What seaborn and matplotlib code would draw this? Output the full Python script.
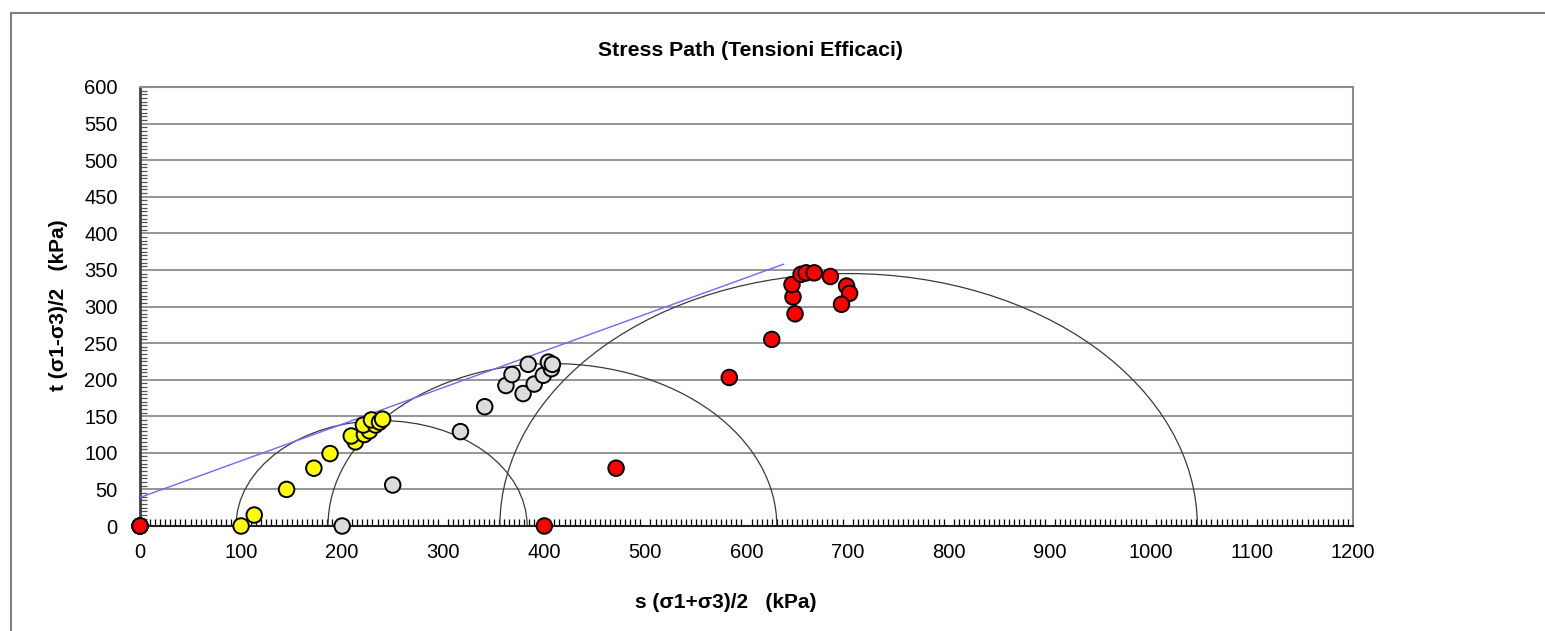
import matplotlib
matplotlib.use("Agg")
import matplotlib.pyplot as plt
import seaborn as sns
import pandas as pd
from matplotlib.patches import Arc
from matplotlib.lines import Line2D
from matplotlib.ticker import MultipleLocator

# ---- data ----
yellow_s = [0, 100, 113, 145, 172, 188, 213, 209, 222, 227, 221, 233, 229, 237, 240]
yellow_t = [0, 0, 15, 50, 79, 99, 115, 123, 125, 130, 138, 138, 145, 142, 146]

grey_s = [0, 200, 250, 317, 341, 362, 368, 379, 384, 390, 399, 407, 404, 408]
grey_t = [0, 0, 56, 129, 163, 192, 207, 181, 221, 194, 206, 215, 224, 221]

red_s = [0, 400, 471, 583, 625, 648, 646, 645, 654, 659, 667, 683, 699, 702, 694]
red_t = [0, 0, 79, 203, 255, 290, 313, 330, 344, 346, 346, 341, 328, 318, 303]

circle_center = [239, 408, 701]
circle_radius = [144, 222, 345]

envelope_s = [0, 637]
envelope_t = [39, 358]

x_ticks = list(range(0, 1201, 100))
y_ticks = list(range(0, 601, 50))

title = "Stress Path (Tensioni Efficaci)"
xlabel = "s (\u03c31+\u03c33)/2   (kPa)"
ylabel = "t (\u03c31-\u03c33)/2   (kPa)"

# ---- figure ----
sns.set_style("white")
plt.rcParams["font.family"] = ["Liberation Sans", "DejaVu Sans"]
plt.rcParams["text.color"] = "black"

W, H = 1545, 631
fig = plt.figure(figsize=(W / 100, H / 100), dpi=100)
ax = fig.add_axes([140 / W, 1 - 526 / H, (1353 - 140) / W, (526 - 87) / H])

# outer chart frame
fig.add_artist(Line2D([11 / W, 1.0], [1 - 13 / H, 1 - 13 / H], transform=fig.transFigure,
                      color="#808080", lw=1.5))
fig.add_artist(Line2D([11 / W, 11 / W], [1 - 13 / H, 0.0], transform=fig.transFigure,
                      color="#808080", lw=1.5))

ax.set_xlim(0, 1200)
ax.set_ylim(0, 600)

# gridlines
for yv in y_ticks[1:]:
    ax.axhline(yv, color="#8c8c8c", lw=1.3, zorder=1)

# Mohr circles
for c, r in zip(circle_center, circle_radius):
    ax.add_patch(Arc((c, 0), 2 * r, 2 * r, theta1=0, theta2=180,
                     color="#3a3a3a", lw=0.9, zorder=2))

# failure envelope
env = pd.DataFrame({"s": envelope_s, "t": envelope_t})
sns.lineplot(data=env, x="s", y="t", ax=ax, color="#6b6bff", lw=1.0, zorder=3,
             legend=False)

# stress paths
frames = []
for name, s, t in [("yellow", yellow_s, yellow_t), ("grey", grey_s, grey_t),
                   ("red", red_s, red_t)]:
    frames.append(pd.DataFrame({"s": s, "t": t, "series": name}))
df = pd.concat(frames, ignore_index=True)
palette = {"yellow": "#ffff00", "grey": "#dcdcdc", "red": "#ff0000"}
sns.scatterplot(data=df, x="s", y="t", hue="series", palette=palette, ax=ax,
                s=125, edgecolor="black", linewidth=1.4, legend=False,
                zorder=5, clip_on=False)

# axes styling
ax.set_xticks(x_ticks)
ax.set_yticks(y_ticks)
ax.xaxis.set_minor_locator(MultipleLocator(5))
ax.yaxis.set_minor_locator(MultipleLocator(5))
ax.tick_params(axis="both", which="major", direction="out", length=6, width=1.0,
               color="black", labelsize=14.5, labelcolor="black")
ax.tick_params(axis="y", which="major", pad=10)
ax.tick_params(axis="x", which="major", direction="inout", length=12, pad=6)
ax.tick_params(axis="x", which="minor", direction="in", length=5, width=0.9,
               color="black", bottom=True)
ax.tick_params(axis="y", which="minor", direction="in", length=5, width=0.9,
               color="#555555", left=True)

for side in ["top", "right"]:
    ax.spines[side].set_color("#8c8c8c")
    ax.spines[side].set_linewidth(1.5)
ax.spines["left"].set_color("#404040")
ax.spines["left"].set_linewidth(2.0)
ax.spines["bottom"].set_color("#202020")
ax.spines["bottom"].set_linewidth(1.5)

ax.set_xlabel("")
ax.set_ylabel("")
fig.text(750 / W, 1 - 51 / H, title, ha="center", va="center",
         fontsize=15.3, fontweight="bold", color="black")
fig.text(726 / W, 1 - 603 / H, xlabel, ha="center", va="center",
         fontsize=15, fontweight="bold", color="black")
fig.text(59 / W, 1 - 305 / H, ylabel, ha="center", va="center",
         fontsize=15, fontweight="bold", rotation=90, color="black")

fig.savefig("out.png", dpi=100, facecolor="white")
